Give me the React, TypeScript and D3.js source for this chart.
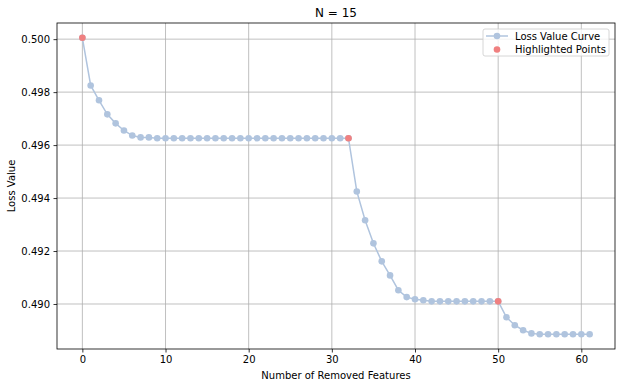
import * as d3 from "d3";
import { useEffect, useRef } from "react";

const width = 622;
const height = 387;
const margin = { top: 23, right: 7, bottom: 38, left: 57 };

// loss value per number of removed features (0..61)
const lossValues = [
  0.50005, 0.49825, 0.49769, 0.49716, 0.49682, 0.49655, 0.49636, 0.49629, 0.49629, 0.49626,
  0.49626, 0.49626, 0.49626, 0.49626, 0.49626, 0.49626, 0.49626, 0.49626, 0.49626, 0.49626,
  0.49626, 0.49626, 0.49626, 0.49626, 0.49626, 0.49626, 0.49626, 0.49626, 0.49626, 0.49626,
  0.49626, 0.49626, 0.49626, 0.49425, 0.49316, 0.49229, 0.49161, 0.49108, 0.49052, 0.49026,
  0.49018, 0.49014, 0.4901, 0.4901, 0.4901, 0.4901, 0.4901, 0.4901, 0.4901, 0.4901,
  0.4901, 0.4895, 0.4892, 0.48901, 0.48889, 0.48886, 0.48886, 0.48886, 0.48886, 0.48886,
  0.48886, 0.48886,
];
const highlighted = [0, 32, 50];
const xTicks = [0, 10, 20, 30, 40, 50, 60];
const yTicks = [0.49, 0.492, 0.494, 0.496, 0.498, 0.5];

const lineColor = "#b0c4de";
const redColor = "#f08080";
const font = "DejaVu Sans, sans-serif";

export default function App() {
  const ref = useRef<SVGSVGElement>(null);

  useEffect(() => {
    const svg = d3.select(ref.current);
    svg.selectAll("*").remove();

    const innerW = width - margin.left - margin.right;
    const innerH = height - margin.top - margin.bottom;

    const n = lossValues.length - 1;
    const xPad = n * 0.05;
    const x = d3.scaleLinear().domain([-xPad, n + xPad]).range([0, innerW]);
    const [yMin, yMax] = d3.extent(lossValues) as [number, number];
    const yPad = (yMax - yMin) * 0.05;
    const y = d3.scaleLinear().domain([yMin - yPad, yMax + yPad]).range([innerH, 0]);

    const g = svg.append("g").attr("transform", `translate(${margin.left},${margin.top})`);

    // grid
    g.selectAll("line.gx")
      .data(xTicks)
      .enter()
      .append("line")
      .attr("x1", (d) => x(d))
      .attr("x2", (d) => x(d))
      .attr("y1", 0)
      .attr("y2", innerH)
      .attr("stroke", "#b0b0b0")
      .attr("stroke-width", 0.8);
    g.selectAll("line.gy")
      .data(yTicks)
      .enter()
      .append("line")
      .attr("x1", 0)
      .attr("x2", innerW)
      .attr("y1", (d) => y(d))
      .attr("y2", (d) => y(d))
      .attr("stroke", "#b0b0b0")
      .attr("stroke-width", 0.8);

    // curve
    const line = d3
      .line<number>()
      .x((_, i) => x(i))
      .y((d) => y(d));
    g.append("path")
      .datum(lossValues)
      .attr("d", line)
      .attr("fill", "none")
      .attr("stroke", lineColor)
      .attr("stroke-width", 1.5);

    g.selectAll("circle.pt")
      .data(lossValues)
      .enter()
      .append("circle")
      .attr("cx", (_, i) => x(i))
      .attr("cy", (d) => y(d))
      .attr("r", 3.3)
      .attr("fill", lineColor);

    g.selectAll("circle.hl")
      .data(highlighted)
      .enter()
      .append("circle")
      .attr("cx", (d) => x(d))
      .attr("cy", (d) => y(lossValues[d]))
      .attr("r", 3.3)
      .attr("fill", redColor);

    // axes
    const xAxis = g
      .append("g")
      .attr("transform", `translate(0,${innerH})`)
      .call(d3.axisBottom(x).tickValues(xTicks).tickSize(3.5).tickPadding(3.5).tickFormat(d3.format("d")));
    const yAxis = g
      .append("g")
      .call(d3.axisLeft(y).tickValues(yTicks).tickSize(3.5).tickPadding(3.5).tickFormat(d3.format(".3f")));
    [xAxis, yAxis].forEach((a) => {
      a.select(".domain").remove();
      a.selectAll("text").attr("font-family", font).attr("font-size", 10).attr("fill", "#000");
      a.selectAll("line").attr("stroke", "#000").attr("stroke-width", 0.8);
    });

    g.append("rect")
      .attr("width", innerW)
      .attr("height", innerH)
      .attr("fill", "none")
      .attr("stroke", "#000")
      .attr("stroke-width", 0.8);

    // labels
    svg.append("text")
      .attr("x", margin.left + innerW / 2)
      .attr("y", 17)
      .attr("text-anchor", "middle")
      .attr("font-family", font)
      .attr("font-size", 12)
      .text("N = 15");
    svg.append("text")
      .attr("x", margin.left + innerW / 2)
      .attr("y", 379)
      .attr("text-anchor", "middle")
      .attr("font-family", font)
      .attr("font-size", 10)
      .text("Number of Removed Features");
    svg.append("text")
      .attr("transform", `translate(15,${margin.top + innerH / 2}) rotate(-90)`)
      .attr("text-anchor", "middle")
      .attr("font-family", font)
      .attr("font-size", 10)
      .text("Loss Value");

    // legend
    const lg = svg.append("g").attr("transform", "translate(483,29)");
    lg.append("rect")
      .attr("width", 126)
      .attr("height", 27)
      .attr("rx", 2)
      .attr("fill", "#fff")
      .attr("fill-opacity", 0.8)
      .attr("stroke", "#cccccc")
      .attr("stroke-width", 0.8);
    lg.append("line")
      .attr("x1", 3)
      .attr("x2", 25)
      .attr("y1", 7)
      .attr("y2", 7)
      .attr("stroke", lineColor)
      .attr("stroke-width", 1.5);
    lg.append("circle").attr("cx", 14).attr("cy", 7).attr("r", 3.3).attr("fill", lineColor);
    lg.append("circle").attr("cx", 14).attr("cy", 20.5).attr("r", 3.3).attr("fill", redColor);
    lg.append("text")
      .attr("x", 32)
      .attr("y", 10.5)
      .attr("font-family", font)
      .attr("font-size", 10)
      .text("Loss Value Curve");
    lg.append("text")
      .attr("x", 32)
      .attr("y", 24)
      .attr("font-family", font)
      .attr("font-size", 10)
      .text("Highlighted Points");
  }, []);

  return (
    <svg
      ref={ref}
      width={width}
      height={height}
      style={{ position: "absolute", left: 0, top: 0, background: "#fff" }}
    />
  );
}
